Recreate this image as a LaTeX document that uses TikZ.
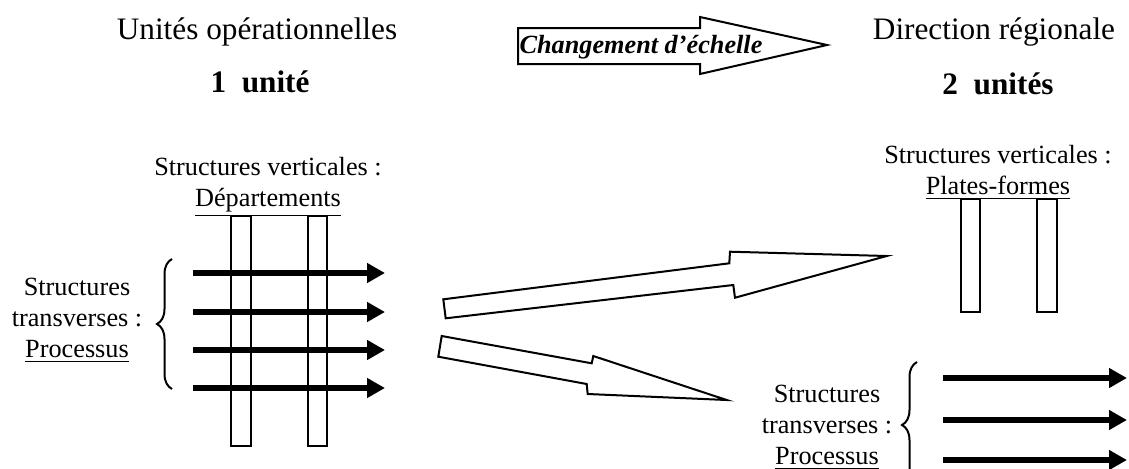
\documentclass[tikz,border=0pt]{standalone}
\usepackage{fontspec}
\setmainfont{Liberation Serif}
\usetikzlibrary{arrows.meta,decorations.pathreplacing,positioning}

\begin{document}
\begin{tikzpicture}[x=0.4pt,y=-0.4pt,
  head/.style={font=\fontsize{12.5}{15}\selectfont,inner sep=0pt,anchor=base},
  lbl/.style={font=\fontsize{10.5}{12.4}\selectfont,align=center,inner sep=0pt,anchor=north},
  pillar/.style={draw,line width=0.8pt},
  flow/.style={line width=2.4pt,-{Triangle[length=7.2pt,width=7.6pt]}},
  hollow/.style={draw,line width=0.8pt,miter limit=20,fill=white},
  curly/.style={decorate,decoration={brace,amplitude=6pt},line width=0.8pt}]
\useasboundingbox (0,0) rectangle (1129,468);
% titres
\node[head] (unites) at (257,39) {Unités opérationnelles};
\node[head,font=\fontsize{12.5}{15}\selectfont\bfseries] (une) at (260,92) {1\ \ unité};
\node[head] (direction) at (994,39) {Direction régionale};
\node[head,font=\fontsize{12.5}{15}\selectfont\bfseries] (deux) at (998,94) {2\ \ unités};
% fleche du haut
\draw[hollow] (518,28)--(700,28)--(700,17)--(827,45)--(700,74)--(700,64)--(518,64)--cycle;
\node[head,font=\fontsize{10.5}{12}\selectfont\bfseries\itshape] (echelle) at (641,53) {Changement d’échelle};
% unites operationnelles
\node[lbl] (vertg) at (268,157) {Structures verticales :\\\underline{Départements}};
\draw[pillar] (231,216) rectangle (251,446);
\draw[pillar] (308,216) rectangle (327,446);
\foreach \y in {273,312,350,388}
  \draw[flow] (193,\y)--(385,\y);
\draw[curly] (172,389)--(172,259);
\node[lbl] (transg) at (77,278) {Structures\\transverses :\\\underline{Processus}};
% fleches obliques
\draw[hollow] (443.3,299.3)--(729.3,263.3)--(730,251.7)--(886.7,256)--(735,297.7)--(733.3,285)--(445.7,318.3)--cycle;
\draw[hollow] (441.7,336)--(591.7,363.3)--(593.3,356)--(726.7,400)--(587.7,394)--(586.7,384)--(438.3,356.7)--cycle;
% direction regionale
\node[lbl] (vertd) at (998,145) {Structures verticales :\\\underline{Plates-formes}};
\draw[pillar] (961,199) rectangle (980,312);
\draw[pillar] (1037,199) rectangle (1057,312);
\node[lbl] (transd) at (827,385) {Structures\\transverses :\\\underline{Processus}};
\draw[curly] (917,488)--(917,362);
\foreach \y in {378,420,460}
  \draw[flow] (943,\y)--(1127,\y);
\end{tikzpicture}
\end{document}
